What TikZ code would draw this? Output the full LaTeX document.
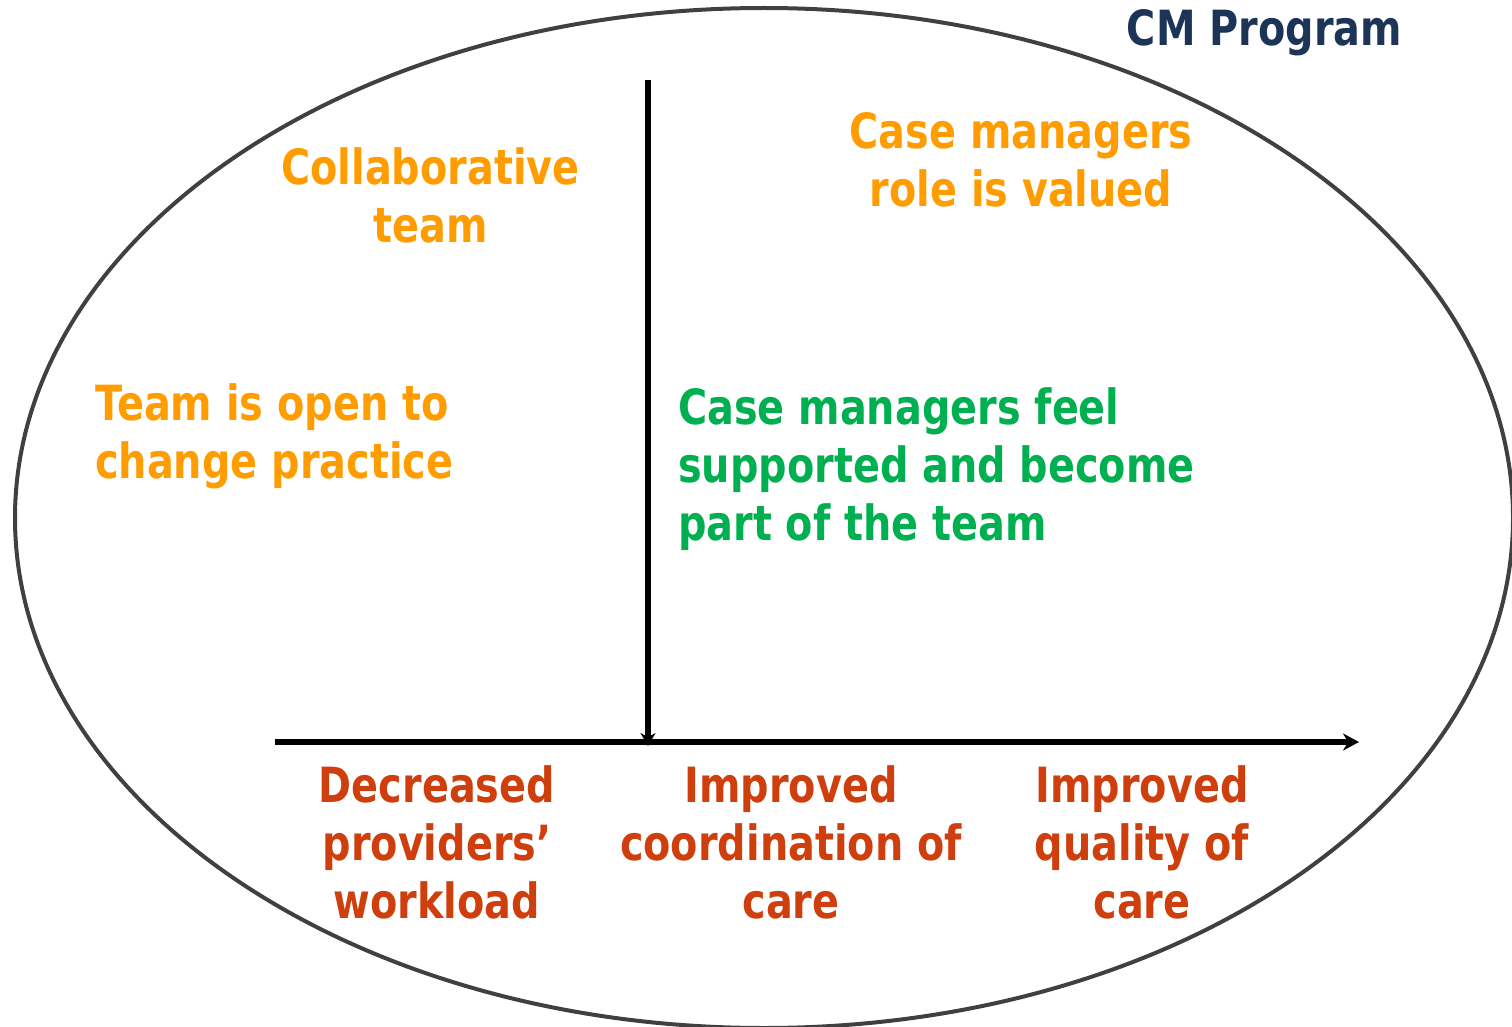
\documentclass[tikz,border=0pt]{standalone}
\usepackage{fontspec}
\setmainfont{DejaVu Sans}[FakeStretch=0.82]
\usetikzlibrary{arrows.meta}
\definecolor{cmorange}{HTML}{FF9D00}
\definecolor{cmgreen}{HTML}{00B050}
\definecolor{cmred}{HTML}{CF3F0E}
\definecolor{cmnavy}{HTML}{1C3557}
\definecolor{cmgray}{HTML}{404040}
\tikzset{
  txt/.style={inner sep=0pt, font=\fontsize{48.5}{58}\selectfont\bfseries},
  orangetxt/.style={txt, text=cmorange},
  greentxt/.style={txt, text=cmgreen},
  redtxt/.style={txt, text=cmred, align=center, anchor=north},
  axis/.style={line width=5.5pt, black, -{Stealth[length=16pt,width=17pt]}},
}
\begin{document}
\begin{tikzpicture}[x=1pt,y=-1pt]
\useasboundingbox (0,0) rectangle (1512,1027);
\draw[cmgray, line width=4pt] (764,518) ellipse [x radius=749, y radius=510];
\coordinate (vtop) at (648,80);
\coordinate (vbot) at (648,746);
\coordinate (hleft) at (275,742);
\coordinate (hright) at (1359,742);
\draw[axis] (hleft) -- (hright);
\draw[line width=5.5pt, black, -{Stealth[length=13pt,width=15pt]}] (vtop) -- (vbot);
\node[txt, text=cmnavy, anchor=north] (cm) at (1264.5,9) {CM Program};
\node[orangetxt, align=center, anchor=north] (collab) at (430.5,147) {Collaborative\\team};
\node[orangetxt, align=center, anchor=north] (valued) at (1021,112) {Case managers\\role is valued};
\node[orangetxt, align=left, anchor=north west] (open) at (95,383) {Team is open to\\change practice};
\node[greentxt, align=left, anchor=north west] (feel) at (678,387) {Case managers feel\\supported and become\\part of the team};
\node[redtxt] (workload) at (437,765) {Decreased\\providers’\\workload};
\node[redtxt] (coord) at (791,765) {Improved\\coordination of\\care};
\node[redtxt] (quality) at (1142,765) {Improved\\quality of\\care};
\end{tikzpicture}
\end{document}
